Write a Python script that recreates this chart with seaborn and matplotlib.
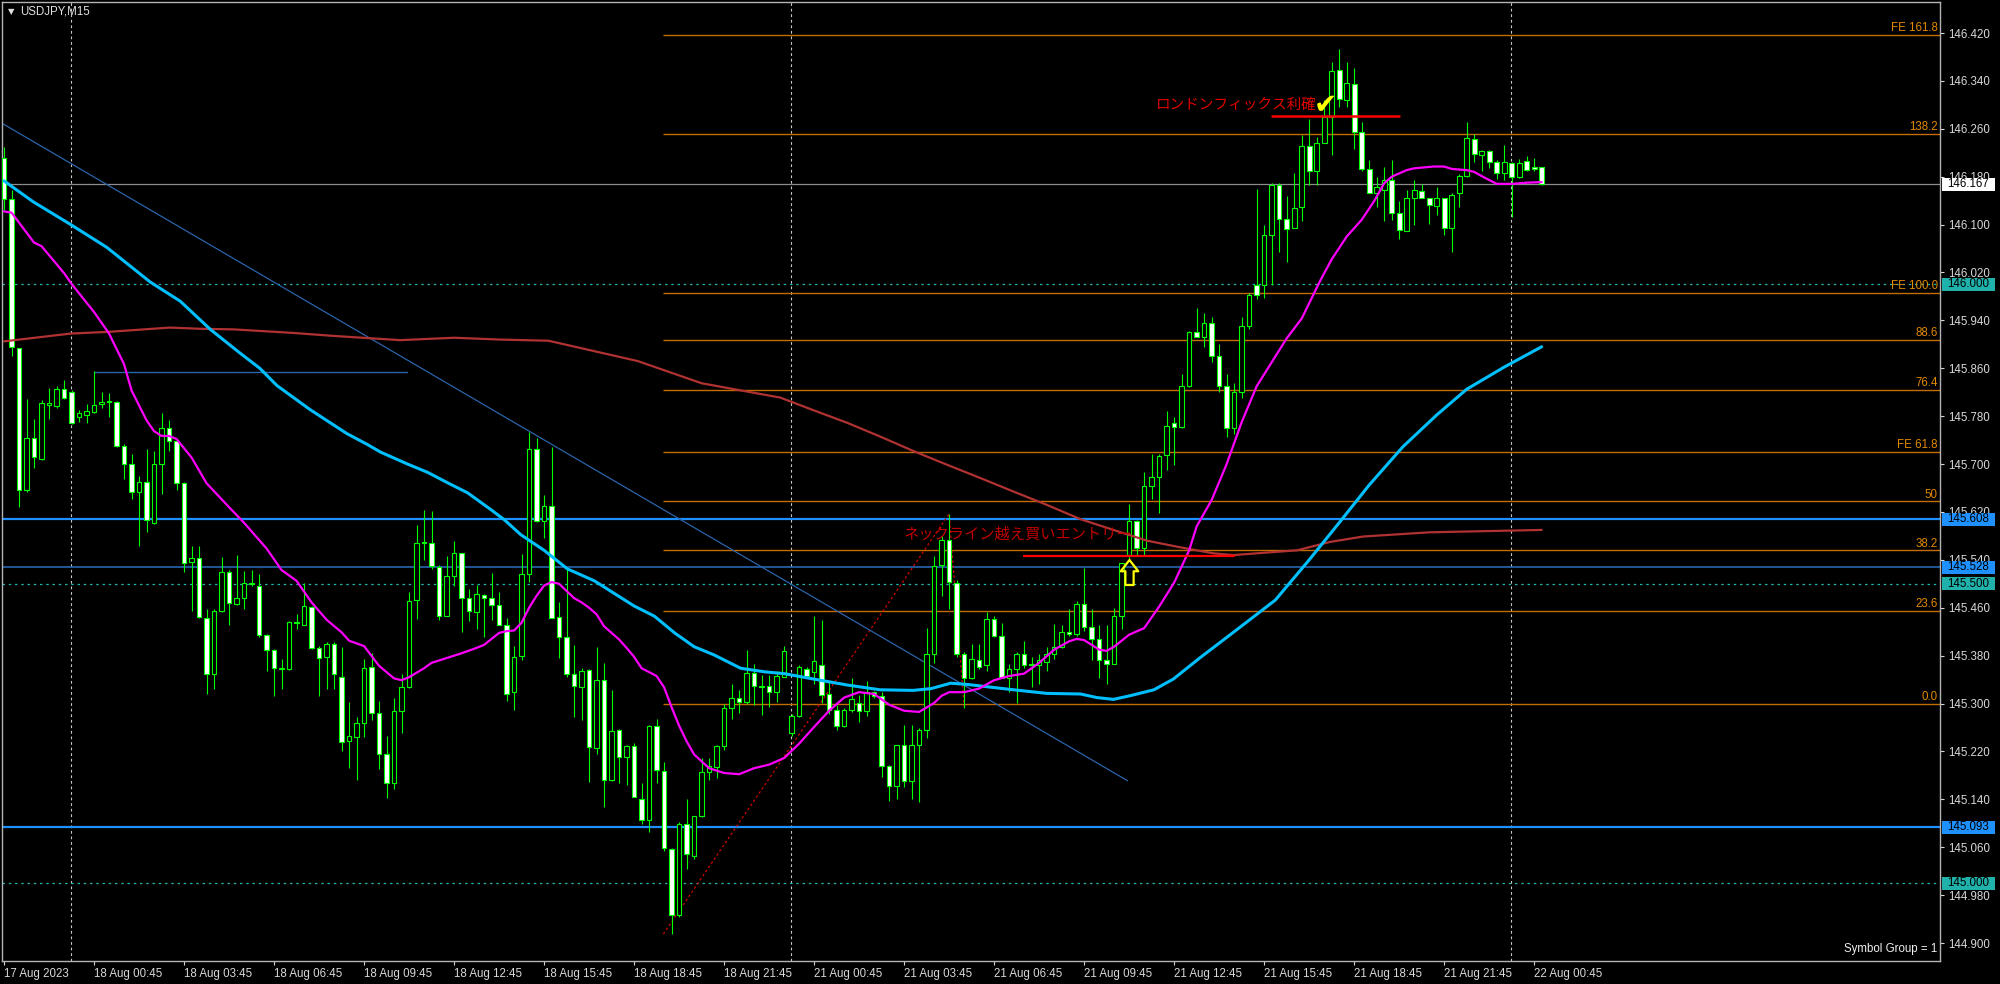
import numpy as np
import pandas as pd
import matplotlib
matplotlib.use("Agg")
import matplotlib.pyplot as plt
import matplotlib.transforms as mtransforms
from matplotlib.patches import Rectangle
from matplotlib.path import Path
import seaborn as sns

symbol = "USDJPY,M15"
sessions = [("2023-08-17 21:45", 9), ("2023-08-18 00:00", 96),
            ("2023-08-21 00:00", 96), ("2023-08-22 00:00", 5)]

# OHLC, one value per 15 min bar
opens = [
    146.211, 146.142, 145.894, 145.657, 145.744, 145.708, 145.799, 145.797, 145.826, 145.820,
    145.778, 145.782, 145.787, 145.800, 145.804, 145.804, 145.731, 145.700, 145.653, 145.670,
    145.602, 145.700, 145.761, 145.738, 145.668, 145.536, 145.543, 145.443, 145.349, 145.454,
    145.519, 145.467, 145.477, 145.501, 145.497, 145.414, 145.389, 145.358, 145.358, 145.434,
    145.432, 145.461, 145.392, 145.378, 145.400, 145.345, 145.237, 145.244, 145.267, 145.361,
    145.284, 145.215, 145.168, 145.287, 145.327, 145.473, 145.569, 145.569, 145.528, 145.447,
    145.513, 145.551, 145.476, 145.453, 145.482, 145.476, 145.464, 145.432, 145.319, 145.379,
    145.517, 145.726, 145.605, 145.630, 145.445, 145.411, 145.350, 145.328, 145.356, 145.226,
    145.339, 145.172, 145.256, 145.211, 145.229, 145.141, 145.105, 145.263, 145.188, 145.057,
    144.946, 145.099, 145.046, 145.112, 145.185, 145.194, 145.229, 145.292, 145.309, 145.302,
    145.351, 145.329, 145.330, 145.320, 145.345, 145.251, 145.280, 145.357, 145.352, 145.364,
    145.316, 145.289, 145.263, 145.289, 145.301, 145.288, 145.319, 145.313, 145.196, 145.162,
    145.230, 145.171, 145.230, 145.256, 145.382, 145.531, 145.573, 145.502, 145.382, 145.343,
    145.373, 145.364, 145.441, 145.413, 145.343, 145.357, 145.382, 145.366, 145.364, 145.370,
    145.382, 145.395, 145.420, 145.417, 145.467, 145.428, 145.408, 145.373, 145.366, 145.447,
    145.548, 145.605, 145.560, 145.663, 145.679, 145.715, 145.769, 145.762, 145.831, 145.921,
    145.912, 145.935, 145.880, 145.830, 145.760, 145.820, 145.930, 145.999, 145.999, 146.083,
    146.166, 146.110, 146.094, 146.130, 146.231, 146.190, 146.237, 146.280, 146.358, 146.308,
    146.335, 146.254, 146.193, 146.153, 146.158, 146.174, 146.120, 146.089, 146.145, 146.156,
    146.145, 146.131, 146.145, 146.094, 146.152, 146.182, 146.243, 146.216, 146.223, 146.205,
    146.187, 146.203, 146.179, 146.207, 146.196, 146.196,
]
highs = [
    146.229, 146.158, 145.894, 145.809, 145.776, 145.807, 145.827, 145.831, 145.840, 145.823,
    145.791, 145.800, 145.855, 145.820, 145.818, 145.805, 145.733, 145.716, 145.680, 145.726,
    145.722, 145.786, 145.773, 145.742, 145.670, 145.563, 145.563, 145.458, 145.458, 145.544,
    145.523, 145.548, 145.521, 145.523, 145.516, 145.416, 145.391, 145.374, 145.438, 145.450,
    145.501, 145.463, 145.396, 145.403, 145.402, 145.395, 145.303, 145.277, 145.374, 145.385,
    145.305, 145.245, 145.309, 145.350, 145.487, 145.599, 145.624, 145.621, 145.531, 145.546,
    145.571, 145.552, 145.491, 145.498, 145.483, 145.518, 145.486, 145.443, 145.396, 145.549,
    145.754, 145.743, 145.649, 145.728, 145.469, 145.525, 145.398, 145.360, 145.358, 145.395,
    145.367, 145.323, 145.258, 145.230, 145.234, 145.167, 145.265, 145.274, 145.203, 145.059,
    145.102, 145.140, 145.112, 145.209, 145.209, 145.230, 145.299, 145.332, 145.322, 145.390,
    145.366, 145.347, 145.347, 145.355, 145.396, 145.282, 145.364, 145.361, 145.447, 145.440,
    145.337, 145.297, 145.292, 145.343, 145.314, 145.337, 145.321, 145.319, 145.198, 145.230,
    145.265, 145.265, 145.259, 145.426, 145.547, 145.580, 145.617, 145.507, 145.386, 145.399,
    145.399, 145.453, 145.447, 145.435, 145.366, 145.386, 145.404, 145.377, 145.382, 145.395,
    145.433, 145.431, 145.458, 145.471, 145.527, 145.458, 145.431, 145.431, 145.460, 145.534,
    145.633, 145.607, 145.686, 145.717, 145.717, 145.789, 145.778, 145.851, 145.923, 145.960,
    145.953, 145.945, 145.900, 145.850, 145.835, 145.945, 145.985, 146.160, 146.099, 146.170,
    146.169, 146.148, 146.187, 146.250, 146.276, 146.246, 146.308, 146.371, 146.393, 146.372,
    146.361, 146.272, 146.208, 146.179, 146.197, 146.208, 146.139, 146.157, 146.174, 146.168,
    146.145, 146.162, 146.145, 146.153, 146.184, 146.272, 146.251, 146.225, 146.225, 146.208,
    146.233, 146.205, 146.209, 146.215, 146.211, 146.197,
]
lows = [
    146.124, 145.881, 145.628, 145.653, 145.693, 145.706, 145.776, 145.794, 145.809, 145.767,
    145.771, 145.768, 145.786, 145.794, 145.778, 145.729, 145.675, 145.642, 145.564, 145.586,
    145.600, 145.650, 145.722, 145.657, 145.519, 145.454, 145.443, 145.316, 145.324, 145.453,
    145.432, 145.465, 145.458, 145.496, 145.412, 145.354, 145.313, 145.324, 145.356, 145.425,
    145.431, 145.391, 145.313, 145.324, 145.324, 145.221, 145.193, 145.173, 145.244, 145.273,
    145.190, 145.143, 145.157, 145.250, 145.326, 145.442, 145.539, 145.525, 145.439, 145.446,
    145.497, 145.419, 145.438, 145.425, 145.411, 145.440, 145.432, 145.305, 145.289, 145.373,
    145.503, 145.604, 145.576, 145.443, 145.376, 145.344, 145.277, 145.272, 145.169, 145.215,
    145.127, 145.171, 145.167, 145.164, 145.144, 145.099, 145.085, 145.167, 145.054, 144.915,
    144.944, 145.024, 145.040, 145.110, 145.172, 145.176, 145.223, 145.274, 145.285, 145.300,
    145.297, 145.281, 145.294, 145.302, 145.344, 145.246, 145.277, 145.344, 145.332, 145.301,
    145.283, 145.256, 145.261, 145.286, 145.270, 145.279, 145.310, 145.178, 145.137, 145.140,
    145.161, 145.140, 145.135, 145.243, 145.368, 145.480, 145.458, 145.377, 145.292, 145.341,
    145.357, 145.355, 145.411, 145.343, 145.319, 145.301, 145.359, 145.328, 145.332, 145.355,
    145.375, 145.392, 145.413, 145.413, 145.422, 145.373, 145.343, 145.332, 145.366, 145.424,
    145.541, 145.548, 145.547, 145.641, 145.619, 145.690, 145.699, 145.760, 145.829, 145.912,
    145.895, 145.870, 145.820, 145.745, 145.750, 145.810, 145.925, 145.975, 145.977, 145.999,
    146.055, 146.037, 146.094, 146.106, 146.166, 146.166, 146.237, 146.216, 146.297, 146.297,
    146.226, 146.190, 146.152, 146.129, 146.106, 146.107, 146.076, 146.089, 146.099, 146.144,
    146.101, 146.116, 146.083, 146.055, 146.129, 146.180, 146.205, 146.190, 146.194, 146.176,
    146.174, 146.112, 146.177, 146.190, 146.190, 146.166,
]
closes = [
    146.142, 145.896, 145.657, 145.744, 145.711, 145.802, 145.802, 145.826, 145.811, 145.769,
    145.786, 145.789, 145.798, 145.803, 145.805, 145.731, 145.700, 145.653, 145.670, 145.606,
    145.700, 145.761, 145.738, 145.668, 145.534, 145.543, 145.445, 145.349, 145.455, 145.519,
    145.468, 145.476, 145.501, 145.499, 145.414, 145.389, 145.360, 145.359, 145.436, 145.436,
    145.463, 145.392, 145.376, 145.400, 145.349, 145.235, 145.245, 145.267, 145.360, 145.284,
    145.215, 145.167, 145.287, 145.327, 145.472, 145.569, 145.568, 145.530, 145.447, 145.513,
    145.552, 145.477, 145.454, 145.483, 145.476, 145.464, 145.432, 145.316, 145.378, 145.517,
    145.726, 145.605, 145.630, 145.443, 145.411, 145.350, 145.329, 145.355, 145.227, 145.339,
    145.172, 145.254, 145.211, 145.229, 145.144, 145.106, 145.263, 145.189, 145.058, 144.946,
    145.099, 145.048, 145.112, 145.185, 145.195, 145.229, 145.292, 145.309, 145.302, 145.351,
    145.329, 145.328, 145.320, 145.346, 145.387, 145.280, 145.361, 145.346, 145.371, 145.315,
    145.289, 145.263, 145.289, 145.307, 145.288, 145.319, 145.313, 145.196, 145.162, 145.230,
    145.171, 145.230, 145.256, 145.382, 145.529, 145.573, 145.503, 145.382, 145.343, 145.375,
    145.361, 145.441, 145.413, 145.343, 145.357, 145.382, 145.364, 145.365, 145.373, 145.382,
    145.395, 145.420, 145.416, 145.467, 145.428, 145.408, 145.373, 145.366, 145.447, 145.534,
    145.605, 145.560, 145.663, 145.679, 145.713, 145.764, 145.762, 145.831, 145.920, 145.912,
    145.935, 145.880, 145.830, 145.760, 145.820, 145.930, 145.982, 145.982, 146.083, 146.166,
    146.109, 146.093, 146.128, 146.231, 146.190, 146.237, 146.280, 146.357, 146.309, 146.336,
    146.254, 146.193, 146.153, 146.163, 146.174, 146.120, 146.091, 146.145, 146.157, 146.145,
    146.132, 146.145, 146.095, 146.150, 146.182, 146.244, 146.218, 146.223, 146.205, 146.187,
    146.205, 146.179, 146.203, 146.191, 146.193, 146.167,
]

# moving averages (bar position, price)
ma_fast_x = [0, 1, 4, 5, 8, 9, 12, 14, 16, 17, 19, 20, 21, 22, 23, 25, 27, 30, 32, 35, 37, 39, 41, 43,
             45, 46, 48, 50, 52, 53, 54, 56, 57, 59, 61, 63, 64, 65, 66, 67, 68, 69, 70, 71, 72, 73,
             74, 75, 76, 77, 78, 79, 80, 82, 83, 84, 85, 87, 88, 89, 90, 91, 92, 94, 96, 98, 100, 102,
             104, 106, 108, 110, 112, 114, 116, 118, 120, 122, 124, 125, 126, 128, 130, 132, 134, 136,
             138, 140, 142, 143, 144, 146, 147, 148, 150, 152, 154, 156, 158, 159, 161, 163, 165, 167,
             169, 171, 173, 175.5, 177, 179, 181, 182.6, 184, 185, 187, 188, 190.6, 192, 193, 195, 196,
             197, 199, 201, 203, 205]
ma_fast_y = [146.122, 146.120, 146.070, 146.064, 146.019, 146.001, 145.954, 145.918, 145.867, 145.823,
             145.773, 145.755, 145.747, 145.747, 145.742, 145.711, 145.668, 145.628, 145.602, 145.559,
             145.523, 145.505, 145.469, 145.440, 145.419, 145.405, 145.396, 145.363, 145.342, 145.339,
             145.344, 145.359, 145.368, 145.376, 145.384, 145.393, 145.398, 145.408, 145.418, 145.421,
             145.422, 145.435, 145.460, 145.480, 145.497, 145.503, 145.500, 145.488, 145.476, 145.469,
             145.460, 145.449, 145.429, 145.407, 145.393, 145.378, 145.359, 145.346, 145.327, 145.294,
             145.263, 145.237, 145.215, 145.192, 145.184, 145.182, 145.192, 145.198, 145.209, 145.233,
             145.261, 145.288, 145.310, 145.319, 145.316, 145.298, 145.288, 145.286, 145.301, 145.313,
             145.319, 145.319, 145.325, 145.339, 145.346, 145.350, 145.368, 145.390, 145.404, 145.408,
             145.406, 145.390, 145.388, 145.395, 145.415, 145.426, 145.462, 145.502, 145.556, 145.596,
             145.640, 145.700, 145.770, 145.830, 145.870, 145.910, 145.943, 146.007, 146.042, 146.080,
             146.108, 146.138, 146.169, 146.180, 146.191, 146.194, 146.197, 146.197, 146.193, 146.191,
             146.188, 146.181, 146.168, 146.168, 146.170, 146.171]
ma_mid_x = [0, 3.9, 8.9, 13.7, 19.5, 23.5, 27.5, 31.5, 34.1, 36.4, 40.8, 45.7, 48.4, 50.2, 53.8, 56.5,
            59.1, 61.8, 64.9, 66.7, 68.9, 72.0, 75.1, 78.7, 84.0, 86.7, 89.4, 92.0, 94.7, 98.2, 101.4,
            104.0, 107.9, 112.4, 116.8, 121.2, 123.6, 126.2, 128.4, 131.1, 134.6, 139.0, 143.5, 145.7,
            147.9, 150.1, 153.3, 155.9, 159.5, 164.0, 169.5, 174.0, 178.0, 182.0, 186.5, 191.0, 195.0,
            200.0, 205.0]
ma_mid_y = [146.173, 146.138, 146.100, 146.062, 146.004, 145.972, 145.925, 145.885, 145.860, 145.831,
            145.791, 145.751, 145.733, 145.720, 145.700, 145.686, 145.669, 145.652, 145.624, 145.607,
            145.582, 145.556, 145.525, 145.505, 145.463, 145.446, 145.418, 145.395, 145.381, 145.359,
            145.353, 145.350, 145.341, 145.331, 145.323, 145.322, 145.325, 145.334, 145.332, 145.328,
            145.323, 145.317, 145.316, 145.310, 145.307, 145.313, 145.323, 145.341, 145.377, 145.420,
            145.473, 145.540, 145.602, 145.665, 145.729, 145.782, 145.825, 145.862, 145.896]
ma_slow_x = [0, 8.9, 14.1, 22.1, 26.1, 30.6, 38.6, 44.0, 52.8, 60.0, 66.1, 72.6, 84.5, 93.0, 103.5,
             107.9, 112.4, 116.8, 121.2, 125.7, 130.1, 134.6, 139.0, 143.5, 147.9, 152.4, 156.8, 161.2,
             163.9, 172.4, 176.8, 181.2, 190.0, 205.0]
ma_slow_y = [145.905, 145.918, 145.921, 145.928, 145.926, 145.925, 145.919, 145.914, 145.907, 145.911,
             145.908, 145.906, 145.872, 145.835, 145.811, 145.790, 145.769, 145.746, 145.722, 145.699,
             145.677, 145.654, 145.632, 145.608, 145.590, 145.572, 145.561, 145.551, 145.548, 145.556,
             145.570, 145.579, 145.586, 145.590]

bid_price = 146.167
round_levels = [146.000, 145.500, 145.000]
blue_levels = [145.608, 145.528, 145.093]

fe_labels = ["0.0", "23.6", "38.2", "50", "FE 61.8", "76.4", "88.6", "FE 100.0", "138.2", "FE 161.8"]
fe_prices = [145.300, 145.455, 145.556, 145.638, 145.721, 145.824, 145.907, 145.986, 146.252, 146.417]
fe_points_x = [87.9, 126, 128]
fe_points_y = [144.915, 145.617, 145.295]

trend_x = [-0.1, 149.8]
trend_y = [146.268, 145.171]
res_x = [12, 53.7]
res_y = [145.854, 145.854]

neck_x = [136, 164]
neck_y = [145.546, 145.546]
fix_x = [169, 186]
fix_y = [146.281, 146.281]

entry_label = "ネックライン越え買いエントリー"
entry_pos = (119.9, 145.583)
fix_label = "ロンドンフィックス利確"
fix_pos = (153.5, 146.300)
check_pos = (176.2, 146.300)
arrow_pos = (150.0, 145.520)

price_ticks = [144.900, 144.980, 145.060, 145.140, 145.220, 145.300, 145.380, 145.460, 145.540, 145.620,
               145.700, 145.780, 145.860, 145.940, 146.020, 146.100, 146.180, 146.260, 146.340, 146.420]

# ---- style ----
sns.set_theme(style="dark", rc={
    "axes.facecolor": "black", "figure.facecolor": "black",
    "axes.edgecolor": "#b4b4b4", "axes.grid": False,
    "text.color": "#e0e0e0", "xtick.color": "#d8d8d8", "ytick.color": "#d8d8d8",
})
plt.rcParams['font.family'] = ['Liberation Sans', 'DejaVu Sans']
FS = 8.3

times = pd.DatetimeIndex(np.concatenate(
    [pd.date_range(s, periods=n, freq="15min").values for s, n in sessions]))
idx = np.arange(len(times))
o, h, l, c = map(np.array, (opens, highs, lows, closes))

fig = plt.figure(figsize=(20, 9.84), dpi=100)
ax = fig.add_axes([2 / 2000, 23 / 984, 1938 / 2000, 959 / 984])
ax.set_facecolor("black")
ax.set_xlim(-0.27, 258.1)
ax.set_ylim(144.870, 146.4718)
for sp in ax.spines.values():
    sp.set_color("#b4b4b4")
    sp.set_linewidth(1)

# day separators
for i in idx[(times.hour == 0) & (times.minute == 0)]:
    ax.axvline(i - 0.1, color="#c8c8c8", lw=0.8, ls=(0, (2.5, 2.5)), zorder=1)

# horizontal levels
ax.axhline(bid_price, color="#8c8c8c", lw=0.9, zorder=1)
for lv in round_levels:
    ax.axhline(lv, color="#20b2aa", lw=0.9, ls=(0, (2, 3)), zorder=1)
for lv, col, lw in zip(blue_levels, ["#1e90ff", "#2566b0", "#1e90ff"], [1.6, 1.2, 1.6]):
    ax.axhline(lv, color=col, lw=lw, zorder=1)

# fibonacci expansion
xmax = ax.get_xlim()[1]
ax.hlines(fe_prices, fe_points_x[0], xmax, colors="#c46c00", lw=1.0, zorder=1)
for lab, p in zip(fe_labels, fe_prices):
    ax.annotate(lab, xy=(1, p), xycoords=("axes fraction", "data"), xytext=(-1.5, 0.5),
                textcoords="offset points", ha="right", va="bottom", color="#e08a00", fontsize=FS)
ax.plot(fe_points_x, fe_points_y, color="#d00000", lw=0.9, ls=(0, (2, 2)), zorder=2)

# trend lines
ax.plot(trend_x, trend_y, color="#2a64aa", lw=0.9, zorder=2)
ax.plot(res_x, res_y, color="#2a64aa", lw=1.0, zorder=2)

# candles
ax.vlines(idx, l, h, color="#00ff00", lw=0.8, zorder=3)
body_lo = np.minimum(o, c)
body_h = np.maximum(np.abs(c - o), 0.0012)
face = np.where(c >= o, "black", "white")
ax.bar(idx, body_h, bottom=body_lo, width=0.62, color=face, edgecolor="#00ff00",
       linewidth=0.8, zorder=4)

# moving averages
sns.lineplot(x=ma_slow_x, y=ma_slow_y, ax=ax, color="#b03232", lw=1.6, estimator=None, sort=False, zorder=5)
sns.lineplot(x=ma_mid_x, y=ma_mid_y, ax=ax, color="#00bfff", lw=2.2, estimator=None, sort=False, zorder=5)
sns.lineplot(x=ma_fast_x, y=ma_fast_y, ax=ax, color="#ff00ff", lw=1.6, estimator=None, sort=False, zorder=5)

# trade annotations
ax.plot(neck_x, neck_y, color="#ff0000", lw=1.6, zorder=6)
ax.plot(fix_x, fix_y, color="#ff0000", lw=1.8, zorder=6)
ax.text(*entry_pos, entry_label, color="#c00000", fontsize=11, va="center", ha="left",
        family=["Noto Sans CJK JP", "DejaVu Sans"], zorder=7)
ax.text(*fix_pos, fix_label, color="#e00000", fontsize=10.5, va="center", ha="left",
        family=["Noto Sans CJK JP", "DejaVu Sans"], zorder=7)
ax.text(*check_pos, "\u2714", color="#ffff00", fontsize=20, va="center", ha="center",
        family=["DejaVu Sans"], zorder=7)
up_arrow = Path([(0, 1), (0.7, 0.1), (0.33, 0.1), (0.33, -1), (-0.33, -1), (-0.33, 0.1), (-0.7, 0.1), (0, 1)],
                [Path.MOVETO] + [Path.LINETO] * 6 + [Path.CLOSEPOLY])
ax.plot([arrow_pos[0]], [arrow_pos[1]], marker=up_arrow, markersize=18, markerfacecolor="none",
        markeredgecolor="#ffff00", markeredgewidth=1.6, linestyle="none", zorder=7)

# axes ticks
ax.yaxis.tick_right()
ax.set_yticks(price_ticks)
ax.set_yticklabels([f"{t:.3f}" for t in price_ticks])
ax.tick_params(axis="y", length=3, width=0.8, pad=3, labelsize=FS, colors="#d8d8d8", right=True)
lab_idx = [0] + [i for i in idx[1:] if times[i].minute == 45 and times[i].hour % 3 == 0]
lab_txt = [times[0].strftime("%d %b %Y")] + [times[i].strftime("%d %b %H:%M") for i in lab_idx[1:]]
ax.set_xticks(lab_idx)
ax.set_xticklabels(lab_txt)
ax.tick_params(axis="x", length=3, width=0.8, pad=2, labelsize=FS, colors="#d8d8d8", bottom=True)
for t in ax.get_xticklabels():
    t.set_ha("left")
ax.set_xlabel("")
ax.set_ylabel("")

# price tags on the scale
trans = mtransforms.blended_transform_factory(ax.transAxes, ax.transData)
tag_h = 13 / 598.7
tags = [(bid_price, "white")] + [(p, "#20b2aa") for p in round_levels] + [(p, "#1e90ff") for p in blue_levels]
for p, fc in tags:
    ax.add_patch(Rectangle((1.00103, p - tag_h / 2), 0.0274, tag_h, transform=trans, facecolor=fc,
                           edgecolor="none", clip_on=False, zorder=8))
    ax.text(1.0036, p, f"{p:.3f}", transform=trans, ha="left", va="center", color="black",
            fontsize=FS, clip_on=False, zorder=9)

# header and footer text
fig.text(8 / 2000, 1 - 12 / 984, "\u25bc", color="#e0e0e0", fontsize=6, va="center", ha="left",
         family=["DejaVu Sans"])
fig.text(20 / 2000, 1 - 12 / 984, symbol, color="#e0e0e0", fontsize=FS, va="center", ha="left")
ax.text(0.9985, 12 / 959, "Symbol Group = 1", transform=ax.transAxes, color="#f0f0f0",
        fontsize=FS, ha="right", va="center")

fig.savefig("out.png", dpi=100, facecolor="black")
